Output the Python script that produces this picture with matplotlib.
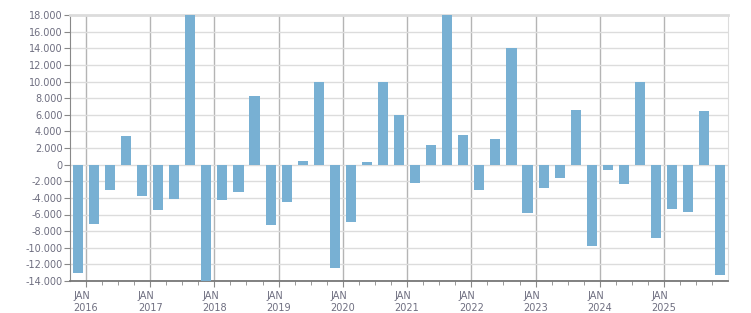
import numpy as np
import matplotlib
matplotlib.use("Agg")
import matplotlib.pyplot as plt
from matplotlib.ticker import FuncFormatter, MultipleLocator


# quarterly values, first bar sits just before JAN 2016
values = [-13000, -7100, -3000, 3400, -3760, -5440, -4120, 18000,
          -14000, -4240, -3280, 8200, -7240, -4480, 400, 9920,
          -12400, -6880, 280, 9920, 5920, -2200, 2320, 18000,
          3520, -3040, 3040, 14080, -5800, -2800, -1600, 6520,
          -9760, -640, -2320, 9920, -8800, -5320, -5680, 6400,
          -13240]
years = [str(y) for y in range(2016, 2026)]

bar_color = "#78b0d3"
text_color = "#6e6e80"
fsize = 7

# 绘制柱状图
fig = plt.figure(figsize=(7.51, 3.13), dpi=100)
ax = fig.add_axes([69.5 / 751, 1 - 281 / 313, (728 - 69.5) / 751, (281 - 15) / 313])

pos = np.arange(len(values)) - 0.5
ax.bar(pos, values, width=0.63, color=bar_color, zorder=3)

ax.set_xlim(-1.02, 39.98)
ax.set_ylim(-14000, 18000)

# y axis
ax.yaxis.set_major_locator(MultipleLocator(2000))
ax.yaxis.set_major_formatter(FuncFormatter(lambda v, p: f"{int(v):,}".replace(",", ".")))
ax.grid(axis="y", color="#dcdcdc", linewidth=1, zorder=0)

# x axis: JAN every year, minor ticks each quarter
major = np.arange(len(years)) * 4
ax.set_xticks(major)
ax.set_xticklabels([f"JAN\n{y}" for y in years])
ax.set_xticks(np.arange(0, 40, 1), minor=True)
for m in major:
    ax.axvline(m, color="#b4b4b4", linewidth=1, zorder=1)

ax.tick_params(axis="both", labelsize=fsize, labelcolor=text_color, color="#888888")
ax.tick_params(axis="x", which="major", length=4, pad=3)
ax.tick_params(axis="x", which="minor", length=3, color="#888888")
ax.tick_params(axis="y", length=4, pad=1)
for lab in ax.get_xticklabels():
    lab.set_linespacing(1.3)
    lab.set_multialignment("left")

ax.spines["left"].set_color("#888888")
ax.spines["bottom"].set_color("#777777")
ax.spines["bottom"].set_linewidth(1.3)
ax.spines["right"].set_color("#dcdcdc")
ax.spines["top"].set_color("#dcdcdc")
ax.spines["top"].set_linewidth(2)

fig.savefig("out.png", dpi=100)
